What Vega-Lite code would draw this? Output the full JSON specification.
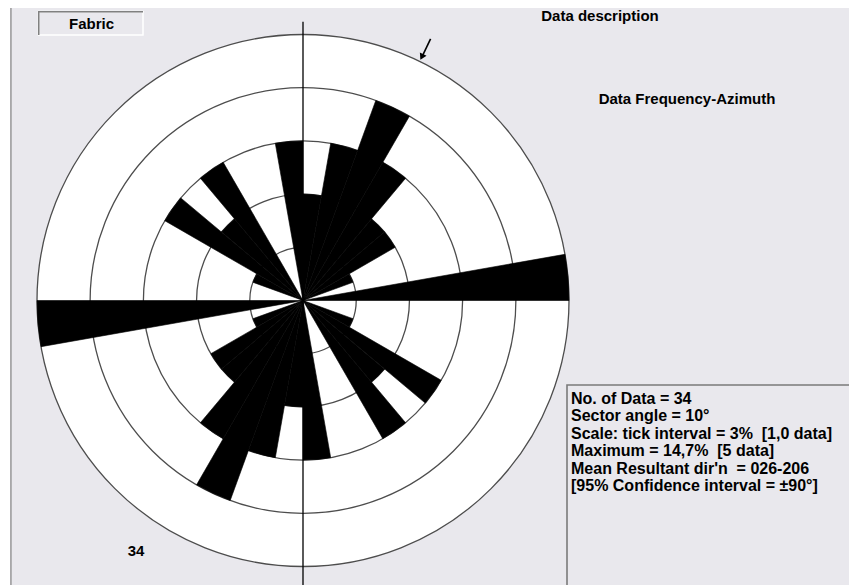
{
  "$schema": "https://vega.github.io/schema/vega-lite/v6.json",
  "width": 606,
  "height": 569,
  "autosize": {"type": "none"},
  "padding": {"left": 0, "top": 16, "right": 243, "bottom": 0},
  "background": "#e9e8ed",
  "config": {"view": {"stroke": null}, "text": {"font": "Liberation Sans"}},
  "datasets": {
    "sectors": [
      {"a0": 0, "a1": 10, "n": 2}, {"a0": 10, "a1": 20, "n": 3}, {"a0": 20, "a1": 30, "n": 4},
      {"a0": 30, "a1": 40, "n": 3}, {"a0": 40, "a1": 50, "n": 2}, {"a0": 50, "a1": 60, "n": 2},
      {"a0": 60, "a1": 70, "n": 1}, {"a0": 70, "a1": 80, "n": 0}, {"a0": 80, "a1": 90, "n": 5},
      {"a0": 90, "a1": 100, "n": 0}, {"a0": 100, "a1": 110, "n": 0}, {"a0": 110, "a1": 120, "n": 1},
      {"a0": 120, "a1": 130, "n": 3}, {"a0": 130, "a1": 140, "n": 2}, {"a0": 140, "a1": 150, "n": 3},
      {"a0": 150, "a1": 160, "n": 0}, {"a0": 160, "a1": 170, "n": 0}, {"a0": 170, "a1": 180, "n": 3},
      {"a0": 180, "a1": 190, "n": 2}, {"a0": 190, "a1": 200, "n": 3}, {"a0": 200, "a1": 210, "n": 4},
      {"a0": 210, "a1": 220, "n": 3}, {"a0": 220, "a1": 230, "n": 2}, {"a0": 230, "a1": 240, "n": 2},
      {"a0": 240, "a1": 250, "n": 1}, {"a0": 250, "a1": 260, "n": 0}, {"a0": 260, "a1": 270, "n": 5},
      {"a0": 270, "a1": 280, "n": 0}, {"a0": 280, "a1": 290, "n": 0}, {"a0": 290, "a1": 300, "n": 1},
      {"a0": 300, "a1": 310, "n": 3}, {"a0": 310, "a1": 320, "n": 2}, {"a0": 320, "a1": 330, "n": 3},
      {"a0": 330, "a1": 340, "n": 0}, {"a0": 340, "a1": 350, "n": 0}, {"a0": 350, "a1": 360, "n": 3}
    ],
    "rings": [{"r": 1}, {"r": 2}, {"r": 3}, {"r": 4}, {"r": 5}]
  },
  "layer": [
    {
      "data": {"values": [{}]},
      "mark": {"type": "rect", "x": 0, "x2": 849, "y": -16, "y2": -8, "fill": "white"},
      "encoding": {}
    },
    {
      "data": {"values": [{}]},
      "mark": {"type": "rect", "x": 0, "x2": 10, "y": -16, "y2": 569, "fill": "white"},
      "encoding": {}
    },
    {
      "data": {"values": [{}]},
      "mark": {"type": "rect", "x": 10.3, "x2": 11.6, "y": -8, "y2": 569, "fill": "#8c8c8c"},
      "encoding": {}
    },
    {
      "data": {"name": "rings"},
      "transform": [{"filter": "datum.r == 5"}],
      "mark": {"type": "arc", "theta": 0, "theta2": 6.2832, "fill": "white"},
      "encoding": {
        "radius": {"field": "r", "type": "quantitative", "stack": null, "scale": {"type": "linear", "domain": [0, 5], "range": [0, 266], "zero": true, "nice": false}}
      }
    },
    {
      "data": {"name": "rings"},
      "mark": {"type": "arc", "theta": 0, "theta2": 6.2832, "filled": false, "stroke": "#4d4d4d", "strokeWidth": 1.3},
      "encoding": {
        "radius": {"field": "r", "type": "quantitative", "stack": null, "scale": {"type": "linear", "domain": [0, 5], "range": [0, 266], "zero": true, "nice": false}}
      }
    },
    {
      "data": {"name": "sectors"},
      "mark": {"type": "arc", "fill": "black", "stroke": "black", "strokeWidth": 0.6},
      "encoding": {
        "theta": {"field": "a0", "type": "quantitative", "stack": null, "scale": {"domain": [0, 360], "range": [0, 6.283185307]}},
        "theta2": {"field": "a1"},
        "radius": {"field": "n", "type": "quantitative", "stack": null, "scale": {"type": "linear", "domain": [0, 5], "range": [0, 266], "zero": true, "nice": false}}
      }
    },
    {
      "data": {"values": [{}]},
      "mark": {"type": "rule", "color": "black", "strokeWidth": 1.3},
      "encoding": {
        "x": {"datum": 0, "type": "quantitative", "scale": {"domain": [-5.6955, 5.6955], "nice": false, "zero": false}, "axis": null},
        "y": {"datum": 5.24, "type": "quantitative", "scale": {"domain": [-5.3477, 5.3477], "nice": false, "zero": false}, "axis": null},
        "y2": {"datum": -5.36}
      }
    },
    {
      "data": {"values": [{}]},
      "mark": {"type": "rule", "color": "black", "strokeWidth": 1.6},
      "encoding": {
        "x": {"datum": 2.398, "type": "quantitative", "scale": {"domain": [-5.6955, 5.6955], "nice": false, "zero": false}, "axis": null},
        "y": {"datum": 4.916, "type": "quantitative", "scale": {"domain": [-5.3477, 5.3477], "nice": false, "zero": false}, "axis": null},
        "x2": {"datum": 2.245},
        "y2": {"datum": 4.6}
      }
    },
    {
      "data": {"values": [{}]},
      "mark": {"type": "point", "shape": "triangle-down", "angle": 26, "filled": true, "color": "black", "opacity": 1, "size": 55},
      "encoding": {
        "x": {"datum": 2.233, "type": "quantitative", "scale": {"domain": [-5.6955, 5.6955], "nice": false, "zero": false}, "axis": null},
        "y": {"datum": 4.578, "type": "quantitative", "scale": {"domain": [-5.3477, 5.3477], "nice": false, "zero": false}, "axis": null}
      }
    },
    {
      "data": {"values": [{}]},
      "mark": {"type": "rect", "x": 38.5, "x2": 143, "y": -4.5, "y2": 19, "filled": false, "stroke": "#ffffff", "strokeWidth": 1.5},
      "encoding": {}
    },
    {
      "data": {"values": [{}]},
      "mark": {"type": "rect", "x": 38, "x2": 143, "y": -5, "y2": -3.5, "fill": "#808080"},
      "encoding": {}
    },
    {
      "data": {"values": [{}]},
      "mark": {"type": "rect", "x": 38, "x2": 39.5, "y": -5, "y2": 19, "fill": "#808080"},
      "encoding": {}
    },
    {
      "data": {"values": [{}]},
      "mark": {"type": "text", "text": "Fabric", "x": 91.5, "y": 8, "align": "center", "baseline": "middle", "fontSize": 15, "fontWeight": "bold", "color": "black"},
      "encoding": {}
    },
    {
      "data": {"values": [{}]},
      "mark": {"type": "text", "text": "Data description", "x": 600, "y": 0, "align": "center", "baseline": "middle", "fontSize": 15, "fontWeight": "bold", "color": "black"},
      "encoding": {}
    },
    {
      "data": {"values": [{}]},
      "mark": {"type": "text", "text": "Data Frequency-Azimuth", "x": 687, "y": 83, "align": "center", "baseline": "middle", "fontSize": 15, "fontWeight": "bold", "color": "black"},
      "encoding": {}
    },
    {
      "data": {"values": [{}]},
      "mark": {"type": "text", "text": "34", "x": 136, "y": 535, "align": "center", "baseline": "middle", "fontSize": 15, "fontWeight": "bold", "color": "black"},
      "encoding": {}
    },
    {
      "data": {"values": [{}]},
      "mark": {"type": "rect", "x": 567, "x2": 860, "y": 369, "y2": 580, "filled": false, "stroke": "#7a7a7a", "strokeWidth": 1.6},
      "encoding": {}
    },
    {
      "data": {"values": [{}]},
      "mark": {
        "type": "text",
        "text": ["No. of Data = 34", "Sector angle = 10°", "Scale: tick interval = 3% \u00a0[1,0 data]", "Maximum = 14,7% \u00a0[5 data]", "Mean Resultant dir'n \u00a0= 026-206", "[95% Confidence interval = ±90°]"],
        "x": 571, "y": 388, "align": "left", "baseline": "alphabetic", "lineHeight": 17.4,
        "fontSize": 16, "fontWeight": "bold", "color": "black"
      },
      "encoding": {}
    }
  ]
}
